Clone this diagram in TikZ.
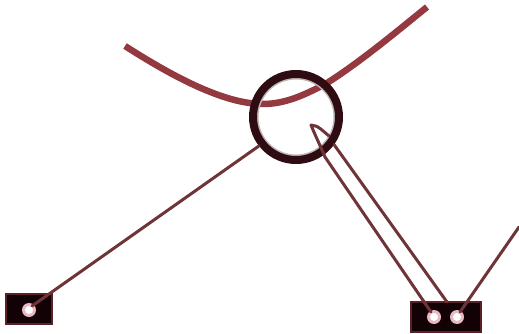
\documentclass[tikz,border=0pt]{standalone}
\definecolor{wire}{HTML}{6E3438}
\definecolor{thick}{HTML}{93393F}
\definecolor{ringc}{HTML}{2E0C12}
\definecolor{boxedge}{HTML}{5A2028}
\definecolor{boxfill}{HTML}{120206}
\definecolor{halo}{HTML}{E8B8C4}
\tikzset{
  wireline/.style={draw=wire,line width=3pt,line cap=round,line join=round},
  cable/.style={draw=thick,line width=6.5pt,line cap=butt},
  hubfill/.style={circle,fill=white,draw=none,minimum size=88pt,inner sep=0pt},
  hubring/.style={circle,draw=ringc,line width=8pt,minimum size=86pt,inner sep=0pt},
  hubsoft/.style={circle,draw=ringc!30!white,line width=2pt,minimum size=77pt,inner sep=0pt},
  housing/.style={rectangle,draw=boxedge,line width=2pt,fill=boxfill,inner sep=0pt},
  pinhalo/.style={circle,fill=halo,draw=none,minimum size=14pt,inner sep=0pt},
  pincore/.style={circle,fill=white,draw=none,minimum size=8pt,inner sep=0pt}
}
\begin{document}
\begin{tikzpicture}[x=1pt,y=-1pt]
\useasboundingbox (0,0) rectangle (519,334);
\node[housing,minimum width=46pt,minimum height=30pt] (boxL) at (28.5,309) {};
\node[housing,minimum width=70pt,minimum height=30pt] (boxR) at (446,317) {};
\node[hubfill] (hubbg) at (296,117) {};
\coordinate (cableA) at (125,46);
\coordinate (cableB) at (427,7);
\coordinate (tip) at (311,125);
\coordinate (free) at (519,227);
\coordinate (topB) at (447,302);
\coordinate (endA) at (431,312);
\coordinate (endB) at (460,312);
\coordinate (endL) at (32,306);
\draw[cable] (cableA) .. controls (175,78) and (225,104) .. (263,104)
  .. controls (285,104) and (305,95) .. (327,83) .. controls (360,62) and (395,33) .. (cableB);
\node[hubsoft] (hubsoft) at (296,117) {};
\node[hubring] (hub) at (296,117) {};
\node[pinhalo] (haloL) at (29,310) {};
\node[pincore] (pinL) at (29,310) {};
\node[pinhalo] (haloA) at (434,317) {};
\node[pincore] (pinA) at (434,317) {};
\node[pinhalo] (haloB) at (457,317) {};
\node[pincore] (pinB) at (457,317) {};
\draw[wireline] (endL) -- (hub.218);
\draw[wireline] (endB) -- (free);
\draw[wireline] (endA) -- (325,157) .. controls (320,145) and (315,135) .. (tip)
  .. controls (318,125) and (324,132) .. (329,136);
\draw[wireline] (topB) -- (hub.-36);
\end{tikzpicture}
\end{document}
